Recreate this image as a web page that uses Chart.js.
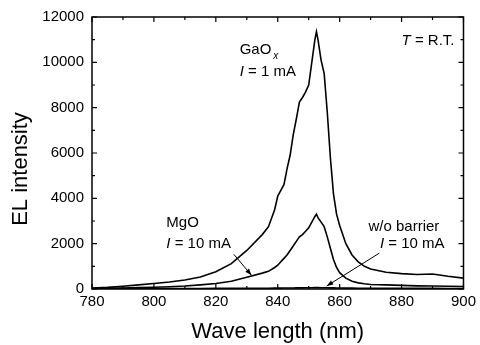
<!DOCTYPE html>
<html>
<head>
<meta charset="utf-8">
<script src="https://cdn.jsdelivr.net/npm/chart.js@4.4.1/dist/chart.umd.min.js"></script>
<style>
html, body { margin: 0; padding: 0; background: #fff; }
#wrap { width: 480px; height: 345px; }
</style>
</head>
<body>
<div id="wrap"><canvas id="chart"></canvas></div>
<script>
// wavelength (nm) shared by the three spectra
var wavelength = [780, 785, 790, 795, 800, 805, 810, 815, 820, 825, 830, 835, 837, 839,
    840, 841, 842, 843, 844, 845, 846, 847, 848, 849, 850, 851, 852, 852.5,
    853, 854, 855, 856, 857, 858, 859, 860, 862, 864, 866, 868, 870,
    875, 880, 885, 890, 895, 900];

// GaOx, I = 1 mA
var gaox = [40, 70, 120, 180, 240, 310, 400, 530, 760, 1120, 1700, 2400, 2750, 3500,
    4100, 4350, 4600, 5300, 5900, 6800, 7500, 8250, 8450, 8700, 9000, 10000, 11000, 11350,
    11000, 10100, 9500, 7800, 5800, 4200, 3300, 2800, 2000, 1500, 1200, 1000, 880,
    740, 680, 640, 660, 560, 480];

// MgO, I = 10 mA
var mgo = [20, 30, 45, 60, 80, 100, 130, 180, 240, 340, 520, 700, 780, 950,
    1050, 1200, 1350, 1500, 1700, 1900, 2100, 2300, 2400, 2550, 2700, 2950, 3200, 3300,
    3150, 2950, 2750, 2300, 1800, 1300, 950, 720, 480, 340, 270, 230, 200,
    180, 160, 140, 130, 120, 110];

// w/o barrier, I = 10 mA
var noBarrier = [15, 18, 20, 20, 22, 22, 25, 25, 28, 30, 32, 35, 35, 38,
    40, 40, 42, 42, 45, 45, 48, 50, 50, 52, 55, 58, 60, 60,
    60, 58, 55, 52, 50, 48, 45, 42, 40, 38, 35, 35, 32,
    30, 30, 28, 28, 25, 25];

var xMajor = [780, 800, 820, 840, 860, 880, 900];
var xMinor = [790, 810, 830, 850, 870, 890];
var yMajor = [0, 2000, 4000, 6000, 8000, 10000, 12000];
var yMinor = [1000, 3000, 5000, 7000, 9000, 11000];

var FONT = "'Liberation Sans', Arial, sans-serif";

function pts(ys) {
    return wavelength.map(function(w, i) { return {x: w, y: ys[i]}; });
}

// labels, each part: [text, italic, sub]
var notes = [
    {x: 827.7, y: 10380, parts: [["GaO", false], ["x", true, true]]},
    {x: 827.7, y: 9415, parts: [["I", true], [" = 1 mA", false]]},
    {x: 897.1, y: 10770, right: true, parts: [["T", true], [" = R.T.", false]]},
    {x: 804, y: 2715, parts: [["MgO", false]]},
    {x: 804, y: 1800, parts: [["I", true], [" = 10 mA", false]]},
    {x: 869.3, y: 2580, parts: [["w/o barrier", false]]},
    {x: 873, y: 1800, parts: [["I", true], [" = 10 mA", false]]}
];

var arrows = [
    {x1: 825.8, y1: 1530, x2: 831.5, y2: 610},
    {x1: 872.8, y1: 1580, x2: 855.8, y2: 130}
];

var framePlugin = {
    id: 'frame',
    afterDatasetsDraw: function(chart) {
        var ctx = chart.ctx, a = chart.chartArea;
        var xs = chart.scales.x, ys = chart.scales.y;
        ctx.save();
        ctx.strokeStyle = '#000';
        ctx.lineWidth = 1.5;
        ctx.strokeRect(a.left, a.top, a.right - a.left, a.bottom - a.top);

        ctx.lineWidth = 1.2;
        ctx.beginPath();
        function xt(list, len) {
            list.forEach(function(v) {
                var px = xs.getPixelForValue(v);
                ctx.moveTo(px, a.bottom); ctx.lineTo(px, a.bottom - len);
                ctx.moveTo(px, a.top); ctx.lineTo(px, a.top + len);
            });
        }
        function yt(list, len) {
            list.forEach(function(v) {
                var py = ys.getPixelForValue(v);
                ctx.moveTo(a.left, py); ctx.lineTo(a.left + len, py);
                ctx.moveTo(a.right, py); ctx.lineTo(a.right - len, py);
            });
        }
        xt(xMajor, 5); xt(xMinor, 3);
        yt(yMajor, 5); yt(yMinor, 3);
        ctx.stroke();

        // arrows
        ctx.lineWidth = 1;
        arrows.forEach(function(ar) {
            var x1 = xs.getPixelForValue(ar.x1), y1 = ys.getPixelForValue(ar.y1);
            var x2 = xs.getPixelForValue(ar.x2), y2 = ys.getPixelForValue(ar.y2);
            ctx.beginPath();
            ctx.moveTo(x1, y1); ctx.lineTo(x2, y2);
            ctx.stroke();
            var ang = Math.atan2(y2 - y1, x2 - x1);
            ctx.beginPath();
            ctx.moveTo(x2, y2);
            ctx.lineTo(x2 - 7 * Math.cos(ang - 0.35), y2 - 7 * Math.sin(ang - 0.35));
            ctx.lineTo(x2 - 7 * Math.cos(ang + 0.35), y2 - 7 * Math.sin(ang + 0.35));
            ctx.closePath();
            ctx.fillStyle = '#000';
            ctx.fill();
        });

        // text notes
        ctx.fillStyle = '#000';
        ctx.textBaseline = 'alphabetic';
        ctx.textAlign = 'left';
        notes.forEach(function(n) {
            var total = 0;
            n.parts.forEach(function(p) {
                ctx.font = (p[1] ? 'italic ' : '') + (p[2] ? '10px ' : '15px ') + FONT;
                total += ctx.measureText(p[0]).width + (p[2] ? 2 : 0);
            });
            var px = xs.getPixelForValue(n.x), py = ys.getPixelForValue(n.y);
            if (n.right) px -= total;
            n.parts.forEach(function(p) {
                ctx.font = (p[1] ? 'italic ' : '') + (p[2] ? '10px ' : '15px ') + FONT;
                if (p[2]) {
                    ctx.fillText(p[0], px + 2, py + 5);
                    px += ctx.measureText(p[0]).width + 2;
                } else {
                    ctx.fillText(p[0], px, py);
                    px += ctx.measureText(p[0]).width;
                }
            });
        });

        // y axis title, sits a bit below the plot centre in the original
        ctx.translate(21, 169);
        ctx.rotate(-Math.PI / 2);
        ctx.font = '22px ' + FONT;
        ctx.textAlign = 'center';
        ctx.textBaseline = 'middle';
        ctx.fillText('EL intensity', 0, 0);
        ctx.restore();
    }
};

function lineSet(label, ys) {
    return {
        label: label,
        data: pts(ys),
        borderColor: '#000',
        borderWidth: 1.6,
        pointRadius: 0,
        tension: 0,
        fill: false
    };
}

new Chart(document.getElementById('chart'), {
    type: 'line',
    data: {
        datasets: [
            lineSet('GaOx, I = 1 mA', gaox),
            lineSet('MgO, I = 10 mA', mgo),
            lineSet('w/o barrier, I = 10 mA', noBarrier)
        ]
    },
    options: {
        responsive: true,
        maintainAspectRatio: false,
        animation: false,
        layout: { padding: { top: 15, right: 13, left: 0, bottom: 0 } },
        plugins: { legend: { display: false }, tooltip: { enabled: false } },
        scales: {
            x: {
                type: 'linear',
                min: 780, max: 900,
                grid: { display: false, drawTicks: false, tickLength: 0 },
                border: { display: false },
                afterFit: function(s) { s.height = 56; },
                afterBuildTicks: function(s) { s.ticks = xMajor.map(function(v) { return {value: v}; }); },
                ticks: { color: '#000', padding: 4, maxRotation: 0, font: { family: FONT, size: 15 },
                    callback: function(v) { return String(v); } },
                title: { display: true, text: 'Wave length (nm)', color: '#000', padding: { top: 2, bottom: 0 }, font: { family: FONT, size: 22 } }
            },
            y: {
                min: 0, max: 12000,
                grid: { display: false, drawTicks: false, tickLength: 0 },
                border: { display: false },
                afterFit: function(s) { s.width = 92; },
                afterBuildTicks: function(s) { s.ticks = yMajor.map(function(v) { return {value: v}; }); },
                ticks: { color: '#000', padding: 8, font: { family: FONT, size: 15 },
                    callback: function(v) { return String(v); } }
            }
        }
    },
    plugins: [framePlugin]
});
</script>
</body>
</html>
